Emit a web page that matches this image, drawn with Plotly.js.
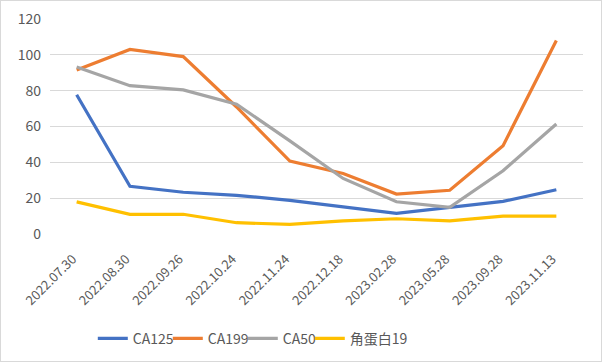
<!DOCTYPE html>
<html><head><meta charset="utf-8">
<script src="https://cdn.plot.ly/plotly-3.0.1.min.js"></script>
<style>html,body{margin:0;padding:0;background:#fff}#c{width:602px;height:362px;box-sizing:border-box;border:1px solid #d9d9d9}</style>
</head><body><div id="c"><div id="p"></div></div>
<script>
const dates = ["2022.07.30","2022.08.30","2022.09.26","2022.10.24","2022.11.24","2022.12.18","2023.02.28","2023.05.28","2023.09.28","2023.11.13"];
const ca125 = [77.7,26.6,23.3,21.6,18.8,15,11.5,14.9,18.2,24.7];
const ca199 = [91.5,103,99,70.9,40.7,33.8,22.3,24.4,49.3,108];
const ca50 = [93.2,82.8,80.4,72.4,52,31,18,14.9,35.3,61.4];
const cyfra = [17.9,11,11,6.3,5.4,7.3,8.5,7.3,10,10];
const names = ["CA125","CA199","CA50","角蛋白19"];
const colors = ["#4472c4","#ed7d31","#a5a5a5","#ffc000"];
const series = [ca125, ca199, ca50, cyfra];
const lw = [30,30,22,60];
const font = "'Microsoft YaHei','Noto Sans CJK SC','Liberation Sans',sans-serif";
const traces = series.map((v,i)=>({x:dates,y:v,name:names[i],type:'scatter',mode:'lines',line:{color:colors[i],width:3.2},legendwidth:lw[i]}));
Plotly.newPlot('p',traces,{
  width:600,height:360,
  margin:{l:49,r:18,t:18,b:127},
  paper_bgcolor:'#fff',plot_bgcolor:'#fff',
  font:{family:font,color:'#595959',size:13},
  xaxis:{type:'category',tickangle:-45,showgrid:false,zeroline:false,showline:false,ticks:'',tickfont:{size:13,color:'#595959'},range:[-0.5,9.5],ticklabelstandoff:14,ticklabelshift:-4,automargin:false},
  yaxis:{range:[0,120],dtick:20,gridcolor:'#d9d9d9',gridwidth:1,zeroline:false,showline:false,ticks:'',tickfont:{size:14,color:'#595959'},ticklabelstandoff:8,automargin:false},
  legend:{orientation:'h',x:0.153,xanchor:'left',xref:'container',yref:'container',y:0.062,yanchor:'middle',font:{size:14,color:'#595959'},itemwidth:30,tracegroupgap:0},
  showlegend:true
},{displayModeBar:false,staticPlot:true});
</script></body></html>
